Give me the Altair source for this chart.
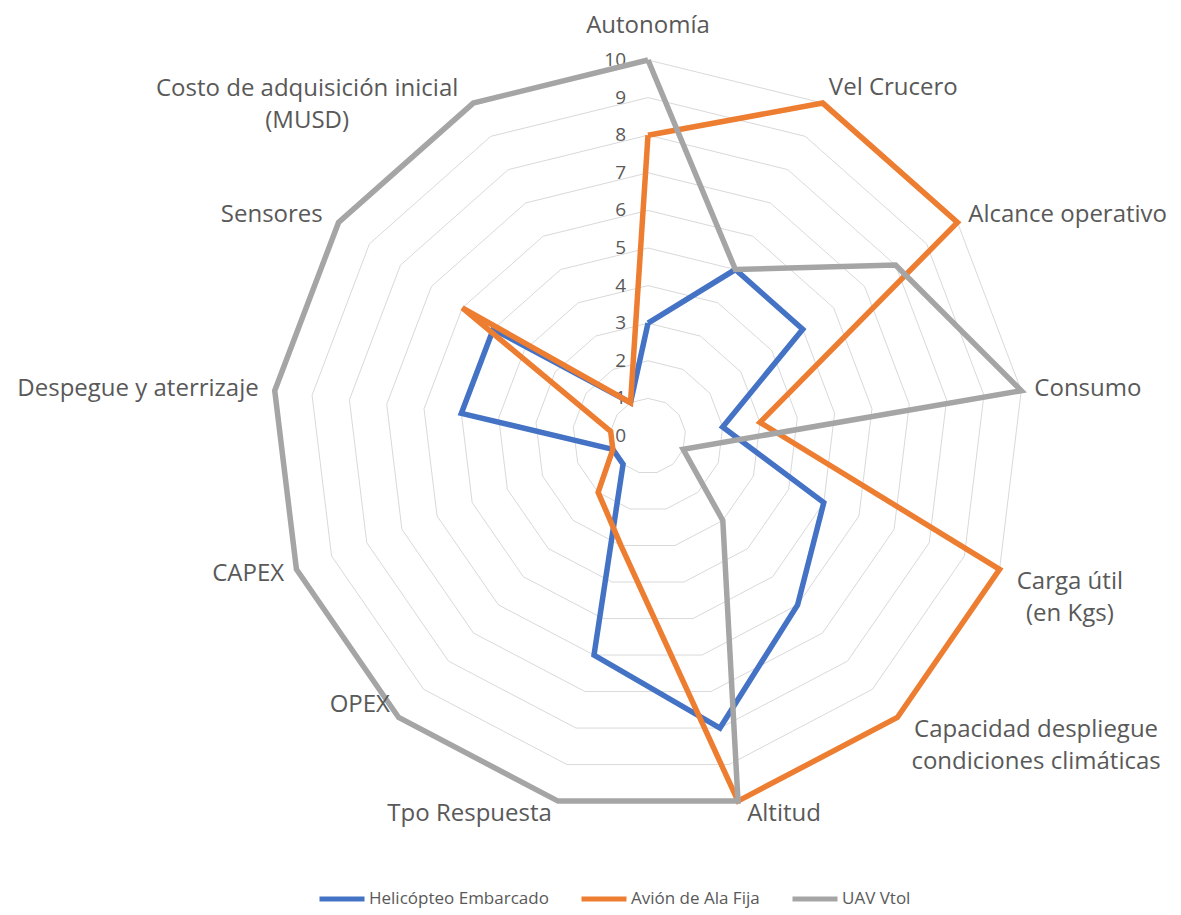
import altair as alt
import pandas as pd

# ---------------- data ----------------
categories = [
    "Autonomía",
    "Vel Crucero",
    "Alcance operativo",
    "Consumo",
    "Carga útil\n(en Kgs)",
    "Capacidad despliegue\ncondiciones climáticas",
    "Altitud",
    "Tpo Respuesta",
    "OPEX",
    "CAPEX",
    "Despegue y aterrizaje",
    "Sensores",
    "Costo de adquisición inicial\n(MUSD)",
]
helicoptero = [3, 5, 5, 2, 5, 6, 8, 6, 1, 1, 5, 5, 1]
avion = [8, 10, 10, 3, 10, 10, 10, 3, 2, 1, 1, 6, 1]
uav = [10, 5, 8, 10, 1, 3, 10, 10, 10, 10, 10, 10, 10]
series_names = ["Helicópteo Embarcado", "Avión de Ala Fija", "UAV Vtol"]
series_values = [helicoptero, avion, uav]
series_colors = ["#4472C4", "#ED7D31", "#A5A5A5"]
ticks = list(range(0, 11))

# ---------------- layout ----------------
N = len(categories)
W, H = 1165, 906
CX, CY = 640, 428
UNIT = 37.6
x_dom = [-CX / UNIT, (W - CX) / UNIT]
y_dom = [-(H - CY) / UNIT, CY / UNIT]
FONT = "Open Sans"
TXT = "#595959"

# label layout: (align, radius, dx, dy)
label_layout = {
    0: ("center", 10.9, 0, 0),
    1: ("left", 10.35, 0, -3),
    2: ("left", 10.35, 0, 0),
    3: ("left", 10.35, 0, 0),
    4: ("center", 10.35, 58, 8),
    5: ("center", 10.35, 130, 3),
    6: ("left", 10.35, 6, 0),
    7: ("right", 10.35, -3, 0),
    8: ("right", 10.35, 0, -22),
    9: ("right", 10.35, 0, 0),
    10: ("right", 10.35, -3, 0),
    11: ("right", 10.35, -5, 0),
    12: ("center", 10.35, -160, -2),
}

rows = []
for s, vals in zip(series_names, series_values):
    for i in range(N + 1):
        rows.append({"serie": s, "idx": i, "valor": vals[i % N]})
df_series = pd.DataFrame(rows)

df_grid = pd.DataFrame(
    [{"level": lv, "idx": i, "valor": lv} for lv in ticks[1:] for i in range(N + 1)]
)
df_ticks = pd.DataFrame({"valor": ticks, "idx": [0] * len(ticks), "lab": [str(t) for t in ticks]})
df_labels = pd.DataFrame({"idx": list(range(N)), "label": categories})

xs = alt.Scale(domain=x_dom, nice=False, zero=False)
ys = alt.Scale(domain=y_dom, nice=False, zero=False)


def with_xy(ch, rexpr="datum.valor"):
    return ch.transform_calculate(
        ang=f"datum.idx * 2 * PI / {N}"
    ).transform_calculate(
        px=f"({rexpr}) * sin(datum.ang)", py=f"({rexpr}) * cos(datum.ang)"
    )


grid = with_xy(alt.Chart(df_grid)).mark_line(
    color="#D9D9D9", strokeWidth=1
).encode(
    x=alt.X("px:Q", scale=xs, axis=None),
    y=alt.Y("py:Q", scale=ys, axis=None),
    detail="level:N",
    order="idx:Q",
)

tick_text = with_xy(alt.Chart(df_ticks)).mark_text(
    align="right", baseline="middle", dx=-22, fontSize=19, font=FONT, color=TXT
).encode(
    x=alt.X("px:Q", scale=xs, axis=None),
    y=alt.Y("py:Q", scale=ys, axis=None),
    text="lab:N",
)

color_scale = alt.Scale(domain=series_names, range=series_colors)
legend = alt.Legend(
    orient="none",
    legendX=309,
    legendY=866,
    direction="horizontal",
    title=None,
    symbolType="stroke",
    symbolSize=2025,
    symbolStrokeWidth=5,
    labelFont=FONT,
    labelFontSize=17,
    labelColor=TXT,
    labelLimit=0,
    labelOffset=2,
    columnPadding=22,
    gridAlign="none",
    padding=0,
)

series_layers = []
for k, s in enumerate(series_names):
    lay = with_xy(
        alt.Chart(df_series).transform_filter(alt.datum.serie == s)
    ).mark_line(strokeWidth=5.5, strokeJoin="miter").encode(
        x=alt.X("px:Q", scale=xs, axis=None),
        y=alt.Y("py:Q", scale=ys, axis=None),
        color=alt.Color("serie:N", scale=color_scale, legend=legend),
        order="idx:Q",
    )
    series_layers.append(lay)

label_layers = []
for i in range(N):
    al, rad, dx, dy = label_layout[i]
    lay = with_xy(
        alt.Chart(df_labels).transform_filter(alt.datum.idx == i), rexpr=str(rad)
    ).mark_text(
        align=al, baseline="middle", dx=dx, dy=dy, fontSize=24, font=FONT,
        color=TXT, lineBreak="\n", lineHeight=32,
    ).encode(
        x=alt.X("px:Q", scale=xs, axis=None),
        y=alt.Y("py:Q", scale=ys, axis=None),
        text="label:N",
    )
    label_layers.append(lay)

chart = alt.layer(grid, tick_text, *series_layers, *label_layers).properties(
    width=W,
    height=H,
    padding=0,
    autosize=alt.AutoSizeParams(type="none"),
    background="white",
).configure_view(stroke=None)

chart.save("out.html", embed_options={"renderer": "svg", "actions": False})
